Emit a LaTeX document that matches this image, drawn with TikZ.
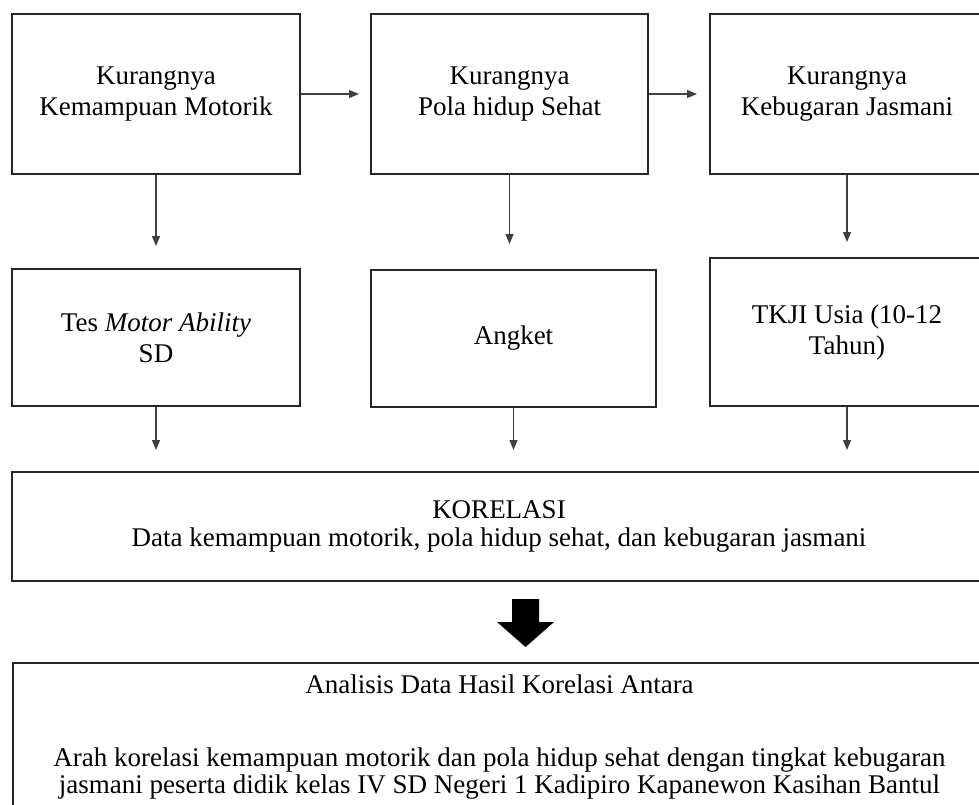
\documentclass[tikz,border=0pt]{standalone}
\usepackage{fontspec}
\setmainfont{Liberation Serif}
\usetikzlibrary{arrows.meta}

\begin{document}
\begin{tikzpicture}[x=0.5pt, y=-0.5pt,
  kotak/.style={draw=black!85, line width=1pt, inner sep=0pt, align=center,
    font=\fontsize{13.5}{15.5}\selectfont},
  panah/.style={draw=black!75, line width=0.6pt, -{Triangle[width=4pt,length=5pt]}}]
  \useasboundingbox (0,0) rectangle (979,804);
  \clip (0,0) rectangle (979,804);

  % baris atas
  \node[kotak, minimum width=144pt, minimum height=80pt] (motorik) at (156,94) {Kurangnya\\Kemampuan Motorik};
  \node[kotak, minimum width=138.5pt, minimum height=80pt] (pola) at (509.5,94) {Kurangnya\\Pola hidup Sehat};
  \node[kotak, minimum width=137pt, minimum height=80pt] (bugar) at (847,94) {Kurangnya\\Kebugaran Jasmani};

  % baris instrumen
  \node[kotak, minimum width=144pt, minimum height=68.5pt] (tes) at (156,337.5) {Tes \textit{Motor Ability}\\SD};
  \node[kotak, minimum width=142.5pt, minimum height=68.5pt] (angket) at (513.5,338.5) {Angket};
  \node[kotak, minimum width=137pt, minimum height=74pt] (tkji) at (847,332) {TKJI Usia (10-12\\Tahun)};

  \node[kotak, minimum width=487pt, minimum height=54.5pt,
    font=\fontsize{13.5}{14}\selectfont] (korelasi) at (499,526.5)
    {KORELASI\\Data kemampuan motorik, pola hidup sehat, dan kebugaran jasmani};

  \node[kotak, anchor=north, minimum width=486.5pt, inner ysep=6pt,
    font=\fontsize{13.5}{13.5}\selectfont] (hasil) at (499.5,662)
    {Analisis Data Hasil Korelasi Antara\\[23pt]
     Arah korelasi kemampuan motorik dan pola hidup sehat dengan tingkat kebugaran\\
     jasmani peserta didik kelas IV SD Negeri 1 Kadipiro Kapanewon Kasihan Bantul\\[30pt]
     \mbox{}};

  \draw[panah, shorten >=5.5pt] (motorik) -- (pola);
  \draw[panah, shorten >=6pt] (pola) -- (bugar);

  \draw[panah, shorten >=11pt] (motorik.south) -- (motorik.south |- tes.north);
  \draw[panah, shorten >=12.5pt] (pola.south) -- (pola.south |- angket.north);
  \draw[panah, shorten >=7.5pt] (bugar.south) -- (bugar.south |- tkji.north);

  \draw[panah, shorten >=10.5pt] (tes.south) -- (tes.south |- korelasi.north);
  \draw[panah, shorten >=10.5pt] (angket.south) -- (angket.south |- korelasi.north);
  \draw[panah, shorten >=10.5pt] (tkji.south) -- (tkji.south |- korelasi.north);

  % panah tebal
  \fill[black] (512,599) -- (539,599) -- (539,622) -- (554,622) -- (525.5,647)
    -- (497,622) -- (512,622) -- cycle;
\end{tikzpicture}
\end{document}
